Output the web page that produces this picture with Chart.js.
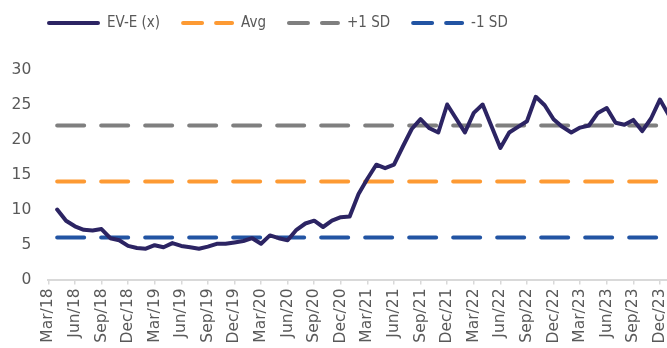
<!DOCTYPE html>
<html>
<head>
<meta charset="utf-8">
<script src="https://cdn.jsdelivr.net/npm/chart.js@4.4.1/dist/chart.umd.min.js"></script>
<style>
  html, body { margin: 0; padding: 0; background: #ffffff; }
  canvas { display: block; }
</style>
</head>
<body>
<canvas id="chart" width="667" height="348"></canvas>
<script>
// Monthly observations
const months = [
  'Apr/18','May/18','Jun/18','Jul/18','Aug/18','Sep/18','Oct/18','Nov/18','Dec/18',
  'Jan/19','Feb/19','Mar/19','Apr/19','May/19','Jun/19','Jul/19','Aug/19','Sep/19','Oct/19','Nov/19','Dec/19',
  'Jan/20','Feb/20','Mar/20','Apr/20','May/20','Jun/20','Jul/20','Aug/20','Sep/20','Oct/20','Nov/20','Dec/20',
  'Jan/21','Feb/21','Mar/21','Apr/21','May/21','Jun/21','Jul/21','Aug/21','Sep/21','Oct/21','Nov/21','Dec/21',
  'Jan/22','Feb/22','Mar/22','Apr/22','May/22','Jun/22','Jul/22','Aug/22','Sep/22','Oct/22','Nov/22','Dec/22',
  'Jan/23','Feb/23','Mar/23','Apr/23','May/23','Jun/23','Jul/23','Aug/23','Sep/23','Oct/23','Nov/23','Dec/23',
  'Jan/24'
];

// EV/EBITDA multiple (x)
const evE = [
  10.0, 8.4, 7.6, 7.1, 7.0, 7.2, 5.9, 5.6, 4.8,
  4.5, 4.4, 4.9, 4.6, 5.2, 4.8, 4.6, 4.4, 4.7, 5.1, 5.1, 5.3,
  5.5, 5.9, 5.1, 6.3, 5.9, 5.6, 7.1, 8.0, 8.4, 7.5, 8.4, 8.9,
  9.0, 12.2, 14.4, 16.4, 15.9, 16.4, 19.0, 21.5, 22.9, 21.6, 21.0, 25.0,
  23.0, 21.0, 23.8, 25.0, 21.9, 18.8, 21.0, 21.8, 22.6, 26.1, 24.9, 22.9,
  21.8, 21.0, 21.7, 22.0, 23.8, 24.5, 22.4, 22.1, 22.8, 21.2, 23.0, 25.7,
  23.5
];

// Reference levels
const avgLevel = 14;
const plusSdLevel = 22;
const minusSdLevel = 6;

// Axis labels
const tickLabels = [
  'Mar/18','Jun/18','Sep/18','Dec/18','Mar/19','Jun/19','Sep/19','Dec/19',
  'Mar/20','Jun/20','Sep/20','Dec/20','Mar/21','Jun/21','Sep/21','Dec/21',
  'Mar/22','Jun/22','Sep/22','Dec/22','Mar/23','Jun/23','Sep/23','Dec/23'
];
const yTicks = [0, 5, 10, 15, 20, 25, 30];

const MONTH_NAMES = ['Jan','Feb','Mar','Apr','May','Jun','Jul','Aug','Sep','Oct','Nov','Dec'];
// months counted from Mar/18
function monthIndex(label) {
  const [m, y] = label.split('/');
  return (Number(y) - 18) * 12 + MONTH_NAMES.indexOf(m) - 2;
}
const tickText = Object.fromEntries(tickLabels.map(l => [monthIndex(l), l]));

const series = values => months.map((m, k) => ({ x: monthIndex(m), y: values[k] }));
const level = v => months.map(m => ({ x: monthIndex(m), y: v }));

const TEXT = '#595959';
const FONT = '"DejaVu Sans", Verdana, sans-serif';
const LEGEND_FONT = '"DejaVu Sans Condensed", "Liberation Sans Narrow", "DejaVu Sans", sans-serif';

const lineLegend = {
  id: 'lineLegend',
  afterDraw(chart) {
    const ctx = chart.ctx;
    const y = 23;
    let x = 47;
    ctx.save();
    ctx.font = '15px ' + LEGEND_FONT;
    ctx.textBaseline = 'middle';
    ctx.textAlign = 'left';
    chart.data.datasets.forEach(ds => {
      ctx.beginPath();
      ctx.strokeStyle = ds.borderColor;
      ctx.lineWidth = 4;
      ctx.lineCap = 'round';
      ctx.setLineDash(ds.borderDash ? [19, 14] : []);
      ctx.moveTo(x + 2, y);
      ctx.lineTo(x + 51, y);
      ctx.stroke();
      ctx.setLineDash([]);
      ctx.fillStyle = TEXT;
      ctx.fillText(ds.label, x + 60, y + 0.5);
      x += 60 + ctx.measureText(ds.label).width + 21;
    });
    ctx.restore();
  }
};

const dashed = (label, color, v) => ({
  label, data: level(v),
  borderColor: color, backgroundColor: color,
  borderWidth: 4, borderDash: [27, 17], borderCapStyle: 'round',
  pointRadius: 0, tension: 0, fill: false
});

new Chart(document.getElementById('chart'), {
  type: 'line',
  data: {
    datasets: [
      {
        label: 'EV-E (x)', data: series(evE),
        borderColor: '#2c2463', backgroundColor: '#2c2463',
        borderWidth: 4, borderJoinStyle: 'round', borderCapStyle: 'round',
        pointRadius: 0, tension: 0, fill: false
      },
      dashed('Avg', '#fd9a33', avgLevel),
      dashed('+1 SD', '#7f7f7f', plusSdLevel),
      dashed('-1 SD', '#2254a3', minusSdLevel)
    ]
  },
  options: {
    responsive: false,
    animation: false,
    devicePixelRatio: 1,
    layout: { padding: { top: 69.5, left: 0, right: 0, bottom: 0 } },
    font: { family: FONT },
    plugins: { legend: { display: false }, tooltip: { enabled: false } },
    scales: {
      x: {
        type: 'linear', min: 0, max: 69.8,
        afterBuildTicks: s => { s.ticks = tickLabels.map(l => ({ value: monthIndex(l) })); },
        afterFit: s => { s.height = 68.5; s.paddingLeft = 0; s.paddingRight = 0; },
        ticks: {
          autoSkip: false, minRotation: 90, maxRotation: 90, padding: 4,
          color: TEXT, font: { family: FONT, size: 15.5 },
          callback: v => tickText[v] ?? ''
        },
        grid: { display: true, drawOnChartArea: false, drawTicks: true, tickLength: 5, color: '#d9d9d9', lineWidth: 1.5 },
        border: { display: true, color: '#d9d9d9', width: 2 }
      },
      y: {
        min: 0, max: 30,
        afterBuildTicks: s => { s.ticks = yTicks.map(v => ({ value: v })); },
        afterFit: s => { s.width = 48.3; s.paddingTop = 0; s.paddingBottom = 0; },
        ticks: { padding: 17, color: TEXT, font: { family: FONT, size: 15.5 } },
        grid: { display: false, drawTicks: false },
        border: { display: false }
      }
    }
  },
  plugins: [lineLegend]
});
</script>
</body>
</html>
